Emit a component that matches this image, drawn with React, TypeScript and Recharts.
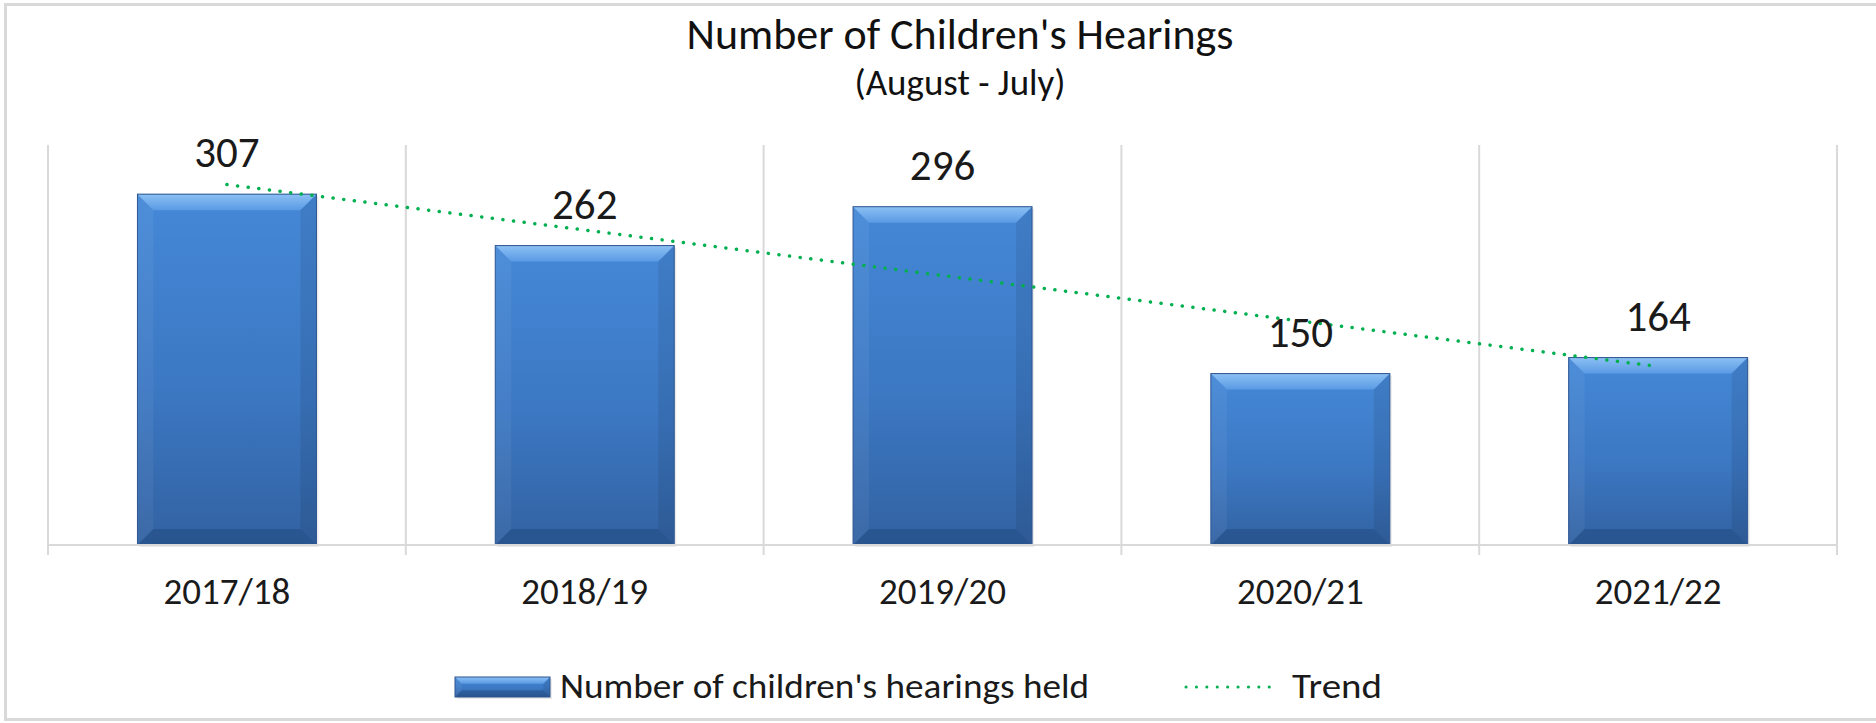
import { Bar, CartesianGrid, ComposedChart, LabelList, Legend, Line, XAxis, YAxis } from "recharts";

const FONT = "Calibri, Carlito, Lato, sans-serif";

const years = ["2017/18", "2018/19", "2019/20", "2020/21", "2021/22"];
const hearings = [307, 262, 296, 150, 164];
// straight dotted trend line at each category centre
const trend = [315.4, 275.6, 235.8, 196.0, 156.2];

const barName = "Number of children's hearings held";
const trendName = "Trend";

const data = years.map((year, i) => ({ year, hearings: hearings[i], trend: trend[i] }));

const BevelBar = (props: any) => {
    const { x, y, width: w, height: h } = props;
    if (!h || h <= 0) return null;
    const b = Math.min(16, w / 2, h / 3);
    return (
        <g>
            <rect x={x + 2} y={y + 2} width={w} height={h} fill="#000" opacity={0.08} />
            <rect x={x} y={y} width={w} height={h} fill="url(#barBody)" />
            <polygon points={`${x},${y} ${x + w},${y} ${x + w - b},${y + b} ${x + b},${y + b}`} fill="url(#bevelTop)" />
            <polygon points={`${x},${y} ${x + b},${y + b} ${x + b},${y + h - b} ${x},${y + h}`} fill="#fff" opacity={0.05} />
            <polygon points={`${x + w},${y} ${x + w},${y + h} ${x + w - b},${y + h - b} ${x + w - b},${y + b}`} fill="#000" opacity={0.08} />
            <polygon points={`${x},${y + h} ${x + b},${y + h - b} ${x + w - b},${y + h - b} ${x + w},${y + h}`} fill="#0b2448" opacity={0.22} />
            <rect x={x} y={y} width={w} height={h} fill="none" stroke="#2d5590" strokeWidth={1} />
        </g>
    );
};

// category label plus the Excel-style tick marks that sit between categories
const YearTick = ({ x, y, payload, index, width, visibleTicksCount }: any) => {
    const half = width / visibleTicksCount / 2;
    const isLast = index === visibleTicksCount - 1;
    return (
        <g>
            <line x1={x - half} x2={x - half} y1={y} y2={y + 10} stroke="#d9d9d9" strokeWidth={2} />
            {isLast && <line x1={x + half} x2={x + half} y1={y} y2={y + 10} stroke="#d9d9d9" strokeWidth={2} />}
            <text x={x} y={y + 59} textAnchor="middle" fontSize={37} fill="#1a1a1a" fontFamily={FONT}>
                {payload.value}
            </text>
        </g>
    );
};

const ValueLabel = ({ x, y, width, value }: any) => (
    <text x={x + width / 2} y={y - 27} textAnchor="middle" fontSize={43} fill="#1a1a1a" fontFamily={FONT}>
        {value}
    </text>
);

const LegendContent = () => (
    <svg width={1000} height={50} style={{ display: "block", overflow: "visible" }}>
        <BevelBar x={0} y={5} width={95} height={20} />
        <text x={105} y={26} fontSize={34} fill="#1a1a1a" fontFamily={FONT} textLength={529} lengthAdjust="spacingAndGlyphs">
            {barName}
        </text>
        <line x1={731} y1={15} x2={824} y2={15} stroke="#00b050" strokeWidth={3} strokeDasharray="0.1 10.3" strokeLinecap="round" />
        <text x={837} y={26} fontSize={34} fill="#1a1a1a" fontFamily={FONT} textLength={90} lengthAdjust="spacingAndGlyphs">
            {trendName}
        </text>
    </svg>
);

const boundaryLines = ({ offset }: any) =>
    [...years.map((_, i) => i), years.length].map((i) => offset.left + (offset.width * i) / years.length);

export default function App() {
    return (
        <div style={{ position: "absolute", left: 0, top: 0, width: 1876, height: 723, overflow: "hidden", background: "#fff" }}>
            <svg width={0} height={0} style={{ position: "absolute" }}>
                <defs>
                    <linearGradient id="barBody" x1="0" y1="0" x2="0" y2="1">
                        <stop offset="0%" stopColor="#4588d7" />
                        <stop offset="55%" stopColor="#3c78c3" />
                        <stop offset="100%" stopColor="#3262a2" />
                    </linearGradient>
                    <linearGradient id="bevelTop" x1="0" y1="0" x2="0" y2="1">
                        <stop offset="0%" stopColor="#8cc0f4" />
                        <stop offset="100%" stopColor="#5a9ae4" />
                    </linearGradient>
                </defs>
            </svg>
            <div
                style={{
                    position: "absolute",
                    left: 4,
                    top: 3,
                    width: 1900,
                    height: 718,
                    border: "3px solid #d9d9d9",
                    boxSizing: "border-box",
                }}
            />
            <svg width={1876} height={120} style={{ position: "absolute", left: 0, top: 0 }}>
                <text x={960} y={49} textAnchor="middle" fontSize={44} fill="#111" fontFamily={FONT}>
                    Number of Children's Hearings
                </text>
                <text x={960} y={95} textAnchor="middle" fontSize={37} fill="#111" fontFamily={FONT}>
                    (August - July)
                </text>
            </svg>
            <div style={{ position: "absolute", left: 0, top: 0 }}>
                <ComposedChart
                    width={1876}
                    height={723}
                    data={data}
                    barCategoryGap="25%"
                    margin={{ top: 145, right: 39, bottom: 108, left: 48 }}
                >
                    <XAxis
                        dataKey="year"
                        height={70}
                        interval={0}
                        axisLine={{ stroke: "#d9d9d9", strokeWidth: 2 }}
                        tickLine={false}
                        tickSize={0}
                        tickMargin={0}
                        tick={<YearTick />}
                    />
                    <YAxis hide domain={[0, 350]} />
                    <CartesianGrid
                        horizontal={false}
                        stroke="#d9d9d9"
                        strokeWidth={2}
                        verticalCoordinatesGenerator={boundaryLines}
                    />
                    <Legend
                        layout="horizontal"
                        verticalAlign="middle"
                        align="center"
                        content={<LegendContent />}
                        wrapperStyle={{ left: 455, top: 672, width: 1000, height: 50 }}
                    />
                    <Bar dataKey="hearings" name={barName} shape={<BevelBar />} isAnimationActive={false}>
                        <LabelList dataKey="hearings" content={<ValueLabel />} />
                    </Bar>
                    <Line
                        dataKey="trend"
                        name={trendName}
                        stroke="#00b050"
                        strokeWidth={3.5}
                        strokeDasharray="0.1 10.6"
                        strokeLinecap="round"
                        dot={false}
                        activeDot={false}
                        isAnimationActive={false}
                    />
                </ComposedChart>
            </div>
        </div>
    );
}
